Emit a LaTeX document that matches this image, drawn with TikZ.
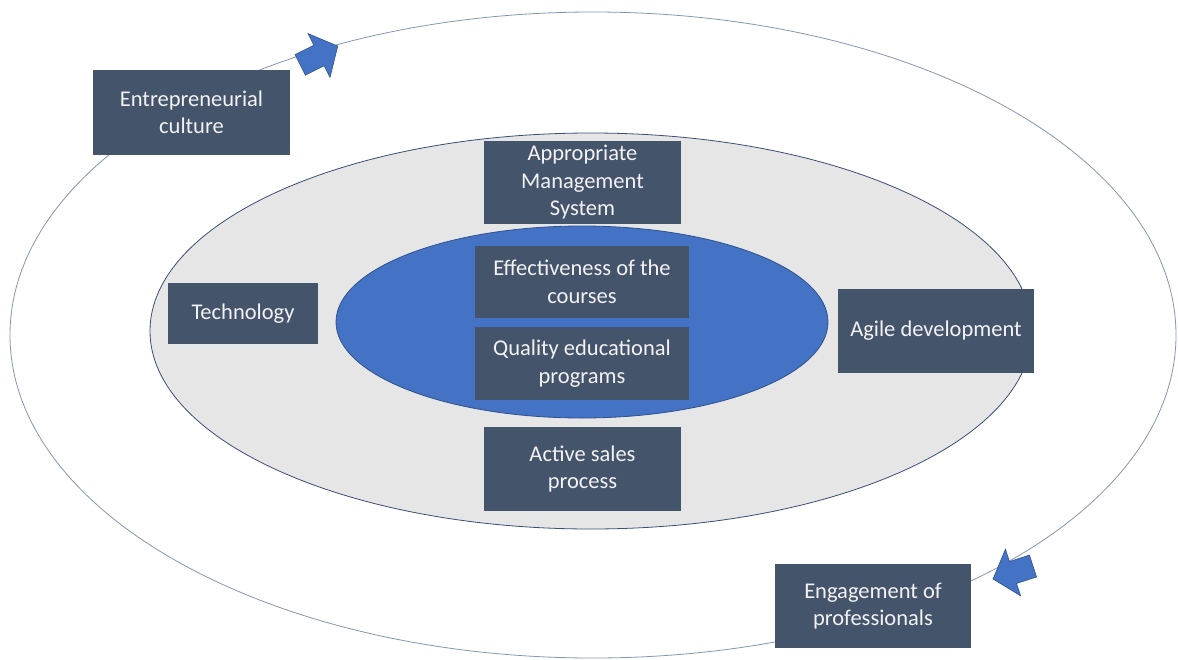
\documentclass[tikz,border=0pt]{standalone}
\usepackage{fontspec}
\setmainfont{Carlito}
\definecolor{boxfill}{HTML}{44546A}
\definecolor{boxtext}{HTML}{F2F2F2}
\definecolor{coreblue}{HTML}{4472C4}
\definecolor{coreedge}{HTML}{2F528F}
\definecolor{ringgray}{HTML}{E7E6E6}
\definecolor{ringedge}{HTML}{3B4E75}
\definecolor{orbit}{HTML}{8497B0}
\tikzset{
  factor/.style={rectangle, fill=boxfill, text=boxtext, align=center,
    inner sep=2pt, font=\fontsize{22.5}{27.5}\selectfont},
  blockarrow/.style={fill=coreblue, draw=coreedge, line width=0.6pt, line join=miter}
}
\begin{document}
\begin{tikzpicture}[x=1pt,y=-1pt]
\useasboundingbox (0,0) rectangle (1178,659);
\fill[white] (0,0) rectangle (1178,659);
% outer cycle
\draw[orbit, line width=0.8pt] (593,335) ellipse [x radius=583, y radius=323];
% middle ring
\draw[ringedge, fill=ringgray, line width=0.8pt] (591,331) ellipse [x radius=441, y radius=198];
% core
\draw[coreedge, fill=coreblue, line width=0.8pt] (582,322) ellipse [x radius=246, y radius=96];

% factors
\node[factor, minimum width=197pt, minimum height=85pt] (ent) at (191.5,112.5) {Entrepreneurial\\culture};
\node[factor, minimum width=197pt, minimum height=83pt] (ams) at (582.5,182.5) {Appropriate\\Management\\System};
\node[factor, minimum width=214pt, minimum height=72pt] (eff) at (582,282) {Effectiveness of the\\courses};
\node[factor, minimum width=214pt, minimum height=73pt] (qual) at (582,363.5) {Quality educational\\programs};
\node[factor, minimum width=150pt, minimum height=61pt] (tech) at (243,313.5) {Technology};
\node[factor, minimum width=196pt, minimum height=84pt] (agile) at (936,331) {Agile development};
\node[factor, minimum width=197pt, minimum height=84pt] (sales) at (582.5,469) {Active sales\\process};
\node[factor, minimum width=196pt, minimum height=84pt] (eng) at (873,606) {Engagement of\\professionals};

% direction arrows on the outer cycle
\begin{scope}[shift={(319,55.5)}, rotate=26.6]
  \draw[blockarrow] (-21,-11.5) -- (0,-11.5) -- (0,-24.5) -- (21,0) -- (0,24.5) -- (0,11.5) -- (-21,11.5) -- cycle;
\end{scope}
\begin{scope}[shift={(1013,572.5)}, rotate=198]
  \draw[blockarrow] (-21,-11.5) -- (0,-11.5) -- (0,-24.5) -- (21,0) -- (0,24.5) -- (0,11.5) -- (-21,11.5) -- cycle;
\end{scope}
\end{tikzpicture}
\end{document}
